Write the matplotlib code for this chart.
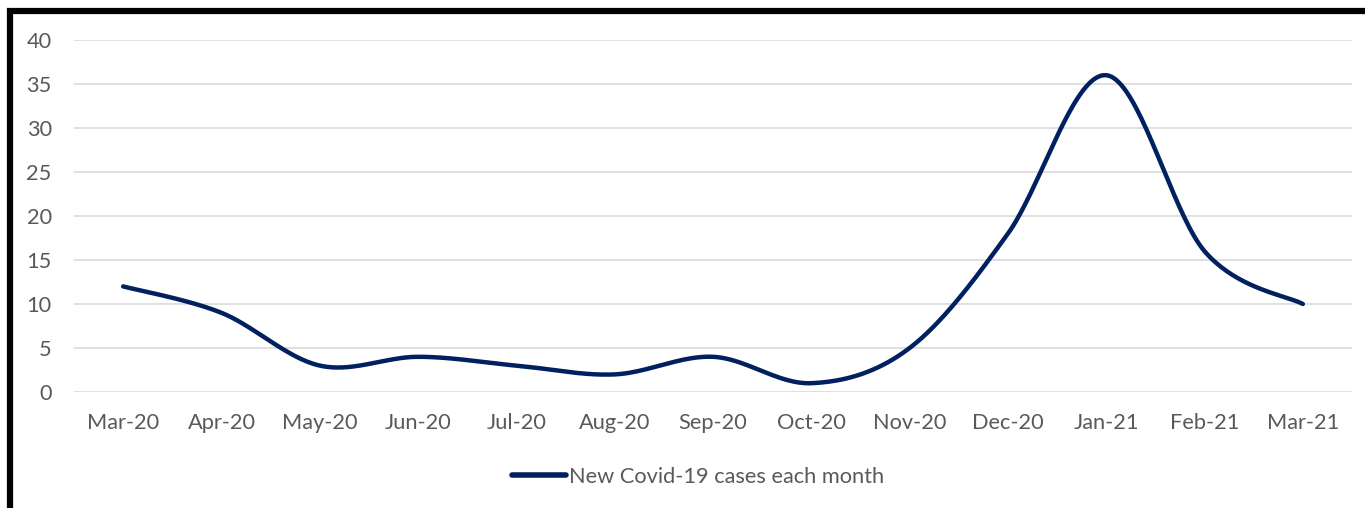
import numpy as np
import matplotlib
matplotlib.use("Agg")
import matplotlib.pyplot as plt
from matplotlib.patches import Rectangle

months = ["Mar-20", "Apr-20", "May-20", "Jun-20", "Jul-20", "Aug-20", "Sep-20",
          "Oct-20", "Nov-20", "Dec-20", "Jan-21", "Feb-21", "Mar-21"]
cases = [12, 9, 3, 4, 3, 2, 4, 1, 5, 18, 36, 16, 10]
yticks = [0, 5, 10, 15, 20, 25, 30, 35, 40]
series_name = "New Covid-19 cases each month"

line_col = "#002060"
grid_col = "#D9D9D9"
text_col = "#595959"
plt.rcParams["font.family"] = ["Lato", "DejaVu Sans"]


def smooth(xs, ys, n=40):
  # excel-like smoothed line: cubic bezier with catmull-rom control points
  xs = np.asarray(xs, float)
  ys = np.asarray(ys, float)
  px = np.concatenate([[xs[0]], xs, [xs[-1]]])
  py = np.concatenate([[ys[0]], ys, [ys[-1]]])
  outx, outy = [], []
  t = np.linspace(0, 1, n)
  for i in range(len(xs) - 1):
    p0 = np.array([px[i+1], py[i+1]])
    p3 = np.array([px[i+2], py[i+2]])
    c1 = p0 + (p3 - np.array([px[i], py[i]])) / 6
    c2 = p3 - (np.array([px[i+3], py[i+3]]) - p0) / 6
    b = ((1-t)**3)[:, None]*p0 + (3*(1-t)**2*t)[:, None]*c1 + (3*(1-t)*t**2)[:, None]*c2 + (t**3)[:, None]*p3
    outx.extend(b[:, 0])
    outy.extend(b[:, 1])
  return np.array(outx), np.array(outy)


fig = plt.figure(figsize=(13.65, 5.08), dpi=100)
ax = fig.add_axes([74/1365, 1-392/508, (1352-74)/1365, 352/508])

x = np.arange(len(months))
sx, sy = smooth(x, cases)
ax.plot(sx, sy, color=line_col, lw=3.2, solid_capstyle="round", label=series_name)

ax.set_xlim(-0.5, len(months) - 0.5)
ax.set_ylim(0, 40)
ax.set_yticks(yticks)
ax.set_xticks(x)
ax.set_xticklabels(months)
ax.grid(axis="y", color=grid_col, lw=1.2)
ax.set_axisbelow(True)
for s in ax.spines.values():
  s.set_visible(False)
ax.tick_params(length=0, labelsize=15.7, labelcolor=text_col)
ax.tick_params(axis="y", pad=16)
ax.tick_params(axis="x", pad=15)

leg = fig.legend(loc="center", bbox_to_anchor=(698/1365, 1-477/508), frameon=False,
                 fontsize=15.7, handlelength=2.5, handletextpad=0.15, labelcolor=text_col)
for h in leg.get_lines():
  h.set_linewidth(4)

# black frame around the chart (cropped on right and bottom)
fig.patches.append(Rectangle((10/1365, -0.1), 1.2, 1.1 - 11/508, transform=fig.transFigure,
                             fill=False, edgecolor="black", lw=4.5, zorder=10))

fig.savefig("out.png", dpi=100)
